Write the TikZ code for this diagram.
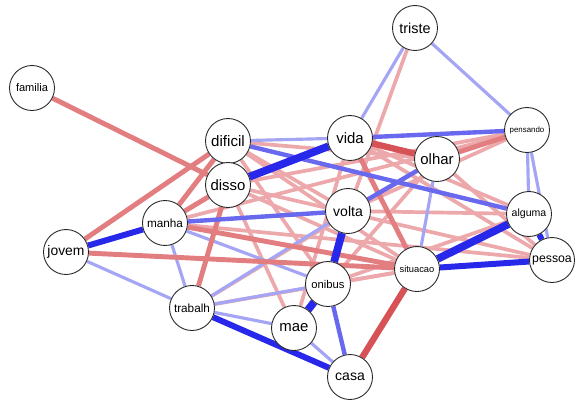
\documentclass[tikz,border=0pt]{standalone}
\usepackage{fontspec}
\setmainfont{Liberation Sans}
\usepackage{xcolor}
\usetikzlibrary{backgrounds}

\definecolor{posstrong}{RGB}{40,40,235}
\definecolor{posmid}{RGB}{105,105,240}
\definecolor{poslight}{RGB}{165,165,245}
\definecolor{negstrong}{RGB}{214,82,86}
\definecolor{negmid}{RGB}{226,125,128}
\definecolor{neglight}{RGB}{236,168,170}

\tikzset{
  word/.style={circle,draw=black!85,fill=white,line width=0.5pt,minimum size=0.9cm,inner sep=0pt},
  fs/.style={font=\fontsize{#1}{#1}\selectfont},
  posA/.style={draw=posstrong,line width=4.4pt},
  posB/.style={draw=posstrong,line width=3.4pt},
  posC/.style={draw=posmid,line width=2.5pt},
  posD/.style={draw=poslight,line width=1.8pt},
  negA/.style={draw=negstrong,line width=3.6pt},
  negB/.style={draw=negmid,line width=2.8pt},
  negC/.style={draw=neglight,line width=2.1pt}
}

\begin{document}
\begin{tikzpicture}[x=0.02cm,y=-0.02cm]
    \useasboundingbox (0,0) rectangle (581,400);
    % word nodes
    \node[word,fs=8.2] (triste) at (415,28) {triste};
    \node[word,fs=6.3] (familia) at (32,88) {familia};
    \node[word,fs=4.5] (pensando) at (527,130) {pensando};
    \node[word,fs=8.6] (dificil) at (228,141) {dificil};
    \node[word,fs=8.5] (vida) at (350,138) {vida};
    \node[word,fs=8.5] (olhar) at (437,159) {olhar};
    \node[word,fs=8.5] (disso) at (228,185) {disso};
    \node[word,fs=8.0] (volta) at (348,211) {volta};
    \node[word,fs=6.0] (alguma) at (529,214) {alguma};
    \node[word,fs=6.7] (manha) at (165,223) {manha};
    \node[word,fs=7.9] (jovem) at (66,252) {jovem};
    \node[word,fs=7.0] (pessoa) at (552,260) {pessoa};
    \node[word,fs=5.3] (situacao) at (417,269) {situacao};
    \node[word,fs=6.4] (onibus) at (328,284) {onibus};
    \node[word,fs=6.7] (trabalh) at (192,308) {trabalh};
    \node[word,fs=8.5] (mae) at (294,328) {mae};
    \node[word,fs=8.0] (casa) at (350,377) {casa};

    \begin{scope}[on background layer]
      % weak negative ties
      \draw[negC] (triste) -- (volta);
      \draw[negC] (disso) -- (pensando);
      \draw[negC] (manha) -- (pensando);
      \draw[negC] (volta) -- (pensando);
      \draw[negC] (dificil) -- (olhar);
      \draw[negC] (dificil) -- (situacao);
      \draw[negC] (disso) -- (situacao);
      \draw[negC] (disso) -- (pessoa);
      \draw[negC] (vida) -- (pessoa);
      \draw[negC] (vida) -- (alguma);
      \draw[negC] (vida) -- (mae);
      \draw[negC] (olhar) -- (pessoa);
      \draw[negC] (volta) -- (alguma);
      \draw[negC] (onibus) -- (alguma);
      \draw[negC] (onibus) -- (situacao);
      \draw[negC] (onibus) -- (olhar);
      \draw[negC] (trabalh) -- (olhar);
      \draw[negC] (trabalh) -- (situacao);
      \draw[negC] (disso) -- (mae);
      \draw[negC] (dificil) -- (onibus);
      \draw[negC] (dificil) -- (volta);
      \draw[negC] (manha) -- (pessoa);
      % weak positive ties
      \draw[posD] (triste) -- (vida);
      \draw[posD] (triste) -- (pensando);
      \draw[posD] (dificil) -- (vida);
      \draw[posD] (pensando) -- (alguma);
      \draw[posD] (pensando) -- (pessoa);
      \draw[posD] (olhar) -- (situacao);
      \draw[posD] (manha) -- (onibus);
      \draw[posD] (manha) -- (trabalh);
      \draw[posD] (jovem) -- (trabalh);
      \draw[posD] (mae) -- (casa);
      \draw[posD] (trabalh) -- (mae);
      \draw[posD] (trabalh) -- (onibus);
      \draw[posD] (trabalh) -- (volta);
      % medium ties
      \draw[negB] (familia) -- (disso);
      \draw[negB] (olhar) -- (pensando);
      \draw[negB] (vida) -- (situacao);
      \draw[negB] (jovem) -- (situacao);
      \draw[negB] (jovem) -- (dificil);
      \draw[negB] (manha) -- (dificil);
      \draw[negB] (manha) -- (disso);
      \draw[negB] (disso) -- (trabalh);
      \draw[negB] (manha) -- (situacao);
      \draw[posC] (vida) -- (pensando);
      \draw[posC] (olhar) -- (volta);
      \draw[posC] (manha) -- (volta);
      \draw[posC] (onibus) -- (casa);
      \draw[posC] (dificil) -- (alguma);
      % strong ties
      \draw[negA] (vida) -- (olhar);
      \draw[negA] (situacao) -- (casa);
      \draw[posB] (situacao) -- (pessoa);
      \draw[posB] (alguma) -- (pessoa);
      \draw[posB] (jovem) -- (manha);
      \draw[posB] (trabalh) -- (casa);
      \draw[posA] (vida) -- (disso);
      \draw[posA] (situacao) -- (alguma);
      \draw[posA] (volta) -- (onibus);
      \draw[posA] (onibus) -- (mae);
    \end{scope}
\end{tikzpicture}
\end{document}
